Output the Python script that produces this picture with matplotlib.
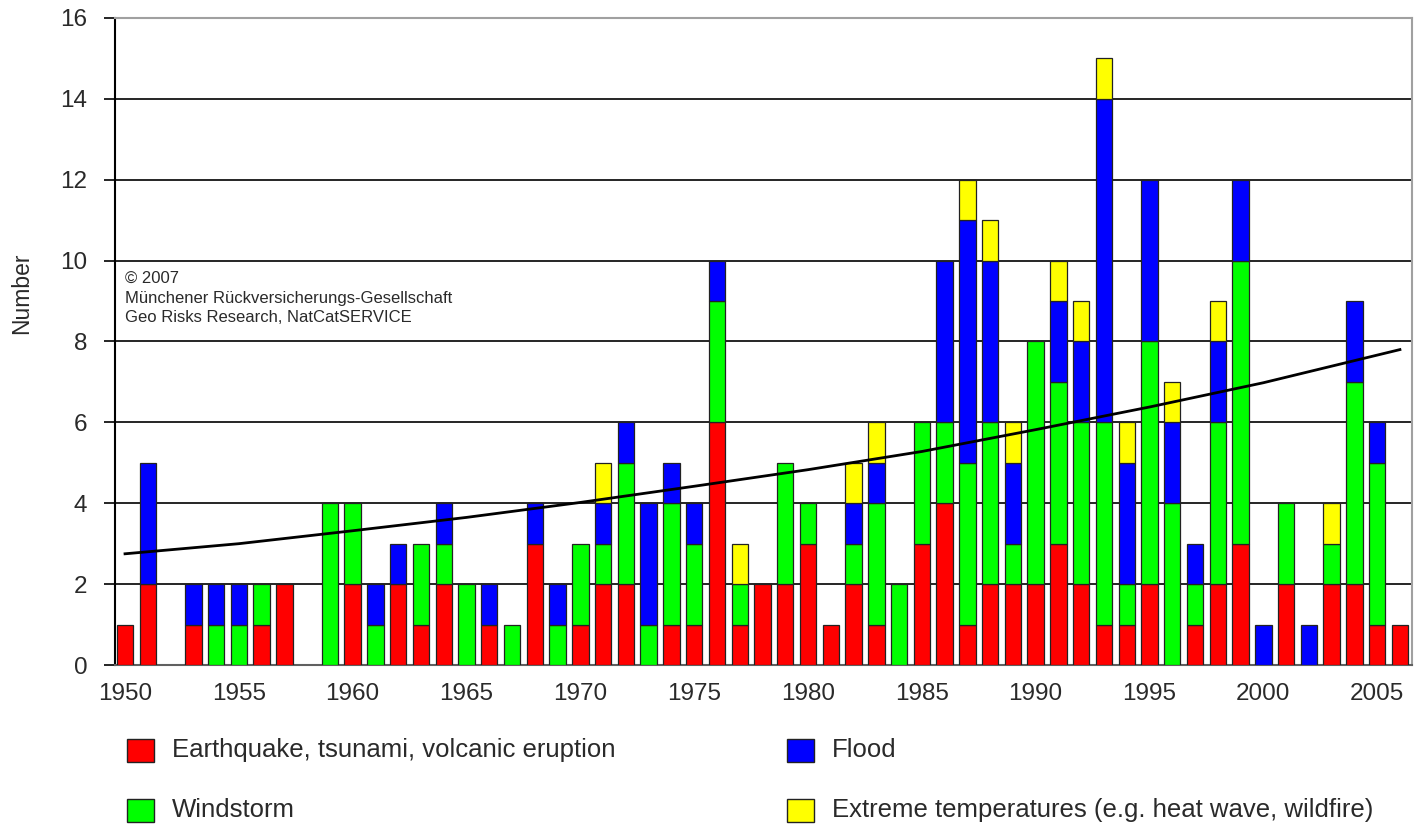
import numpy as np
import matplotlib
matplotlib.use("Agg")
import matplotlib.pyplot as plt
from matplotlib.patches import Rectangle

plt.rcParams['font.family'] = ['Liberation Sans', 'DejaVu Sans']

years = list(range(1950, 2007))
# Earthquake, tsunami, volcanic eruption
quake = [1, 2, 0, 1, 0, 0, 1, 2, 0, 0,
         2, 0, 2, 1, 2, 0, 1, 0, 3, 0,
         1, 2, 2, 0, 1, 1, 6, 1, 2, 2,
         3, 1, 2, 1, 0, 3, 4, 1, 2, 2,
         2, 3, 2, 1, 1, 2, 0, 1, 2, 3,
         0, 2, 0, 2, 2, 1, 1]
# Windstorm
wind = [0, 0, 0, 0, 1, 1, 1, 0, 0, 4,
        2, 1, 0, 2, 1, 2, 0, 1, 0, 1,
        2, 1, 3, 1, 3, 2, 3, 1, 0, 3,
        1, 0, 1, 3, 2, 3, 2, 4, 4, 1,
        6, 4, 4, 5, 1, 6, 4, 1, 4, 7,
        0, 2, 0, 1, 5, 4, 0]
# Flood
flood = [0, 3, 0, 1, 1, 1, 0, 0, 0, 0,
         0, 1, 1, 0, 1, 0, 1, 0, 1, 1,
         0, 1, 1, 3, 1, 1, 1, 0, 0, 0,
         0, 0, 1, 1, 0, 0, 4, 6, 4, 2,
         0, 2, 2, 8, 3, 4, 2, 1, 2, 2,
         1, 0, 1, 0, 2, 1, 0]
# Extreme temperatures
heat = [0, 0, 0, 0, 0, 0, 0, 0, 0, 0,
        0, 0, 0, 0, 0, 0, 0, 0, 0, 0,
        0, 1, 0, 0, 0, 0, 0, 1, 0, 0,
        0, 0, 1, 1, 0, 0, 0, 1, 1, 1,
        0, 1, 1, 1, 1, 0, 1, 0, 1, 0,
        0, 0, 0, 1, 0, 0, 0]

# Trend line, values
trend_years = [1950, 1955, 1960, 1965, 1970, 1975, 1980, 1985, 1990, 1995, 2000, 2006]
trend_vals = [2.75, 3.0, 3.32, 3.65, 4.02, 4.42, 4.83, 5.28, 5.82, 6.38, 6.98, 7.8]

labels = ["Earthquake, tsunami, volcanic eruption", "Windstorm", "Flood",
          "Extreme temperatures (e.g. heat wave, wildfire)"]
colors = ["#FF0000", "#00FF00", "#0000FF", "#FFFF00"]
xtick_years = [1950, 1955, 1960, 1965, 1970, 1975, 1980, 1985, 1990, 1995, 2000, 2005]
yticks = [0, 2, 4, 6, 8, 10, 12, 14, 16]

x = np.array(years, dtype=float)
series = [np.array(s, dtype=float) for s in (quake, wind, flood, heat)]

fig = plt.figure(figsize=(14.15, 8.25), dpi=100)
ax = fig.add_axes([115 / 1415, 1 - 665 / 825, (1412 - 115) / 1415, (665 - 18) / 825])

bottom = np.zeros_like(x)
for s, c in zip(series, colors):
    mask = s > 0
    ax.bar(x[mask], s[mask], bottom=bottom[mask], width=0.72, color=c,
           edgecolor="#222222", linewidth=0.9, zorder=3)
    bottom += s

ax.plot(trend_years, trend_vals, color="black", linewidth=2.0, zorder=4)

ax.set_xlim(1949.56, 2006.53)
ax.set_ylim(0, 16)
ax.set_yticks(yticks)
ax.set_xticks(xtick_years)
ax.set_xticklabels([str(v) for v in xtick_years], fontsize=17.5, color="#2a2a2a")
ax.set_yticklabels([str(v) for v in yticks], fontsize=17.5, color="#2a2a2a")
ax.tick_params(axis="x", length=0, pad=13)
ax.tick_params(axis="y", length=8, width=1.2, pad=12, color="black")
ax.yaxis.grid(True, color="black", linewidth=1.2, zorder=0)
ax.set_axisbelow(True)
for side in ("top", "right"):
    ax.spines[side].set_color("#A0A0A0")
    ax.spines[side].set_linewidth(1.5)
ax.spines["left"].set_linewidth(1.5)
ax.spines["bottom"].set_color("#606060")
ax.spines["bottom"].set_linewidth(1.5)

ax.set_ylabel("Number", fontsize=16.5, color="#2a2a2a")
ax.yaxis.set_label_coords(-0.063, 0.575)

fig.text(125 / 1415, 1 - 298 / 825,
         "© 2007\nMünchener Rückversicherungs-Gesellschaft\nGeo Risks Research, NatCatSERVICE",
         fontsize=12, color="#2a2a2a", va="center", ha="left", linespacing=1.4)

# Legend
W, H = 1415, 825
legend_pos = [(127, 750), (127, 810), (787, 750), (787, 810)]
for (px, py), c, lab in zip(legend_pos, colors, labels):
    fig.patches.append(Rectangle((px / W, 1 - (py + 11.5) / H), 27 / W, 23 / H,
                                 transform=fig.transFigure, facecolor=c,
                                 edgecolor="#222222", linewidth=1.0))
    fig.text((px + 45) / W, 1 - py / H, lab, fontsize=18.5, color="#2a2a2a",
             va="center", ha="left")

fig.savefig("out.png", dpi=100)
